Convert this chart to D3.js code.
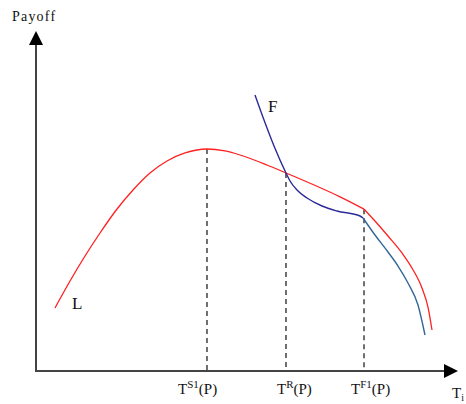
<!DOCTYPE html>
<html>
<head>
<meta charset="utf-8">
<script src="https://cdn.jsdelivr.net/npm/d3@7"></script>
<style>
  body { margin: 0; background: #fff; }
  text { font-family: "Liberation Serif", "DejaVu Serif", serif; fill: #111; }
</style>
</head>
<body>
<div id="chart"></div>
<script>
// curve L (leader payoff), [T, payoff]
var leaderPts = [[4.52,18.53],[8.10,26.47],[11.67,33.82],[15.24,40.59],[19.29,47.65],[23.10,53.24],
  [27.14,58.24],[31.19,61.76],[35.48,64.12],[40.71,65.29],[45.0,64.71],
  [48.57,63.53],[55.0,60.59],[59.52,58.24],[72.4,51.2],[78.1,47.6]];
var leaderTail = [[78.1,47.6],[80.71,44.12],[83.81,39.71],[87.14,34.71],[89.52,30.29],
  [91.90,24.41],[93.33,18.82],[94.29,12.06]];

// curve F (follower payoff)
var followerPts = [[52.14,81.18],[54.29,73.82],[56.67,66.18],[59.52,58.24],[60.48,55.88],
  [62.14,53.24],[64.52,50.88],[68.10,48.53],[71.67,47.06],[77.14,45.59],[77.86,45.0]];
var followerTail = [[77.86,45.0],[80.71,40.0],[83.81,35.0],[86.19,30.88],[88.57,25.88],
  [90.95,19.41],[92.62,10.59]];

// dropped lines to the T axis
var marks = ["S1", "R", "F1"];
var markT = [40.71, 59.52, 78.1];
var markY = [65.29, 58.24, 47.6];

var width = 466, height = 404;

var svg = d3.select("#chart")
  .append("svg")
    .attr("width", width)
    .attr("height", height);

var x = d3.scaleLinear()
  .domain([0, 100])
  .range([36, 456]);

var y = d3.scaleLinear()
  .domain([0, 100])
  .range([371, 31]);

// axes with arrow heads
svg.append("line")
  .attr("x1", x(0)).attr("y1", y(0))
  .attr("x2", x(0)).attr("y2", y(0) - 330)
  .attr("stroke", "#444").attr("stroke-width", 2);
svg.append("line")
  .attr("x1", x(0) - 1).attr("y1", y(0))
  .attr("x2", 446).attr("y2", y(0))
  .attr("stroke", "#444").attr("stroke-width", 2);

svg.append("path")
  .attr("d", "M" + x(0) + ",31 L" + (x(0) - 7) + ",45 L" + (x(0) + 7) + ",45 Z")
  .attr("fill", "#000");
svg.append("path")
  .attr("d", "M458," + y(0) + " L444," + (y(0) - 7) + " L444," + (y(0) + 7) + " Z")
  .attr("fill", "#000");

// dashed drop lines
marks.forEach(function(m, i){
  svg.append("line")
    .attr("x1", x(markT[i])).attr("x2", x(markT[i]))
    .attr("y1", y(markY[i])).attr("y2", y(0))
    .attr("stroke", "#333")
    .attr("stroke-width", 1.4)
    .attr("stroke-dasharray", "5,4");
});

var line = d3.line()
  .x(function(d){ return x(d[0]); })
  .y(function(d){ return y(d[1]); })
  .curve(d3.curveMonotoneX);

svg.append("path").attr("d", line(leaderPts))
  .attr("fill", "none").attr("stroke", "#ff2020").attr("stroke-width", 1.3);
svg.append("path").attr("d", line(leaderTail))
  .attr("fill", "none").attr("stroke", "#ff2020").attr("stroke-width", 1.3);

svg.append("path").attr("d", line(followerPts))
  .attr("fill", "none").attr("stroke", "#2b2b99").attr("stroke-width", 1.4);
svg.append("path").attr("d", line(followerTail))
  .attr("fill", "none").attr("stroke", "#336699").attr("stroke-width", 1.4);

// labels
svg.append("text").text("Payoff")
  .attr("x", 12).attr("y", 21)
  .style("font-size", "14px")
  .style("letter-spacing", "1.2px");

svg.append("text").text("F")
  .attr("x", 268).attr("y", 112)
  .style("font-size", "17px");
svg.append("text").text("L")
  .attr("x", 72).attr("y", 309)
  .style("font-size", "17px");

var labelX = [178, 277, 351];
marks.forEach(function(m, i){
  var t = svg.append("text")
    .attr("x", labelX[i]).attr("y", 394)
    .style("font-size", "15px");
  t.append("tspan").text("T");
  t.append("tspan").text(m)
    .attr("dy", -6)
    .style("font-size", "11px");
  t.append("tspan").text("(P)")
    .attr("dy", 6);
});

var ti = svg.append("text")
  .attr("x", 452).attr("y", 398)
  .style("font-size", "15px");
ti.append("tspan").text("T");
ti.append("tspan").text("i").attr("dy", 3).style("font-size", "10px");
</script>
</body>
</html>
